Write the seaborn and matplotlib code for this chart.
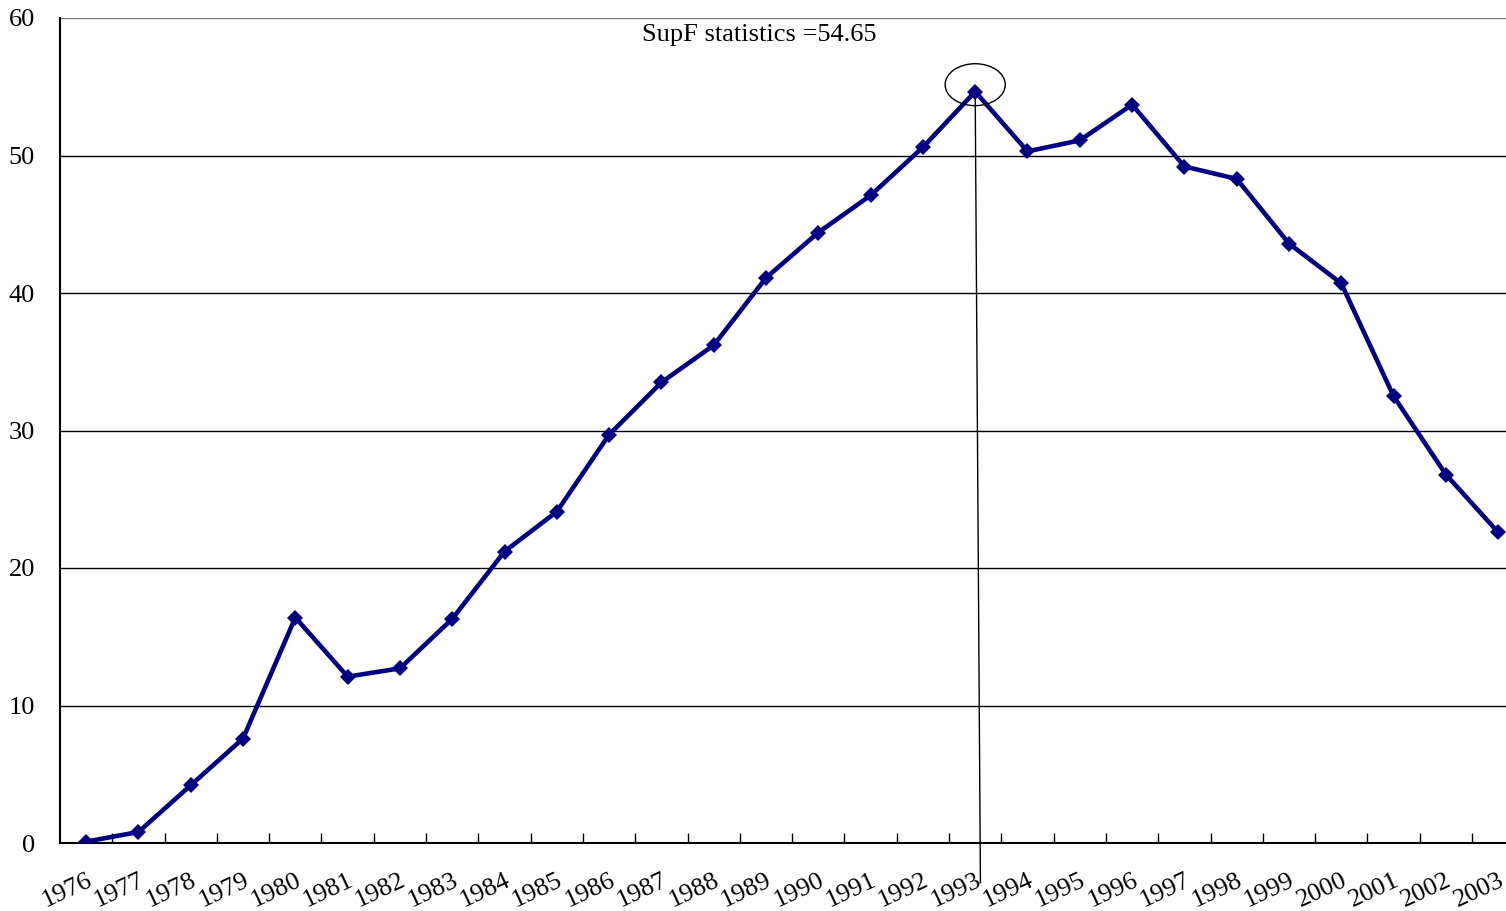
import numpy as np
import pandas as pd
import matplotlib
matplotlib.use("Agg")
import matplotlib.pyplot as plt
from matplotlib.patches import Ellipse
import seaborn as sns

# SupF statistic by candidate break year
years = [str(y) for y in range(1976, 2004)]
supf = [0.1, 0.8, 4.2, 7.6, 16.4, 12.1, 12.7, 16.3, 21.2, 24.1,
        29.7, 33.5, 36.2, 41.1, 44.4, 47.1, 50.6, 54.65, 50.3, 51.1,
        53.7, 49.2, 48.3, 43.6, 40.7, 32.5, 26.8, 22.6]
peak_label = "SupF statistics =54.65"

df = pd.DataFrame({"idx": np.arange(len(years)), "year": years, "supf": supf})
peak = int(np.argmax(supf))

sns.set_style("white")
plt.rcParams["font.family"] = ["Liberation Serif", "DejaVu Serif"]
plt.rcParams["text.color"] = "black"
plt.rcParams["xtick.color"] = "black"
plt.rcParams["ytick.color"] = "black"

fig = plt.figure(figsize=(15.06, 9.11), dpi=100)
ax = fig.add_axes([60 / 1506, 68 / 911, 1 - 60 / 1506, 825 / 911])

sns.lineplot(data=df, x="idx", y="supf", ax=ax, color="#000080", linewidth=3.3,
             marker="D", markersize=8, markeredgewidth=0, zorder=3)

ax.set_xlim(-0.5, 27.15)
ax.set_ylim(0, 60)
ax.set_yticks(range(0, 61, 10))
ax.tick_params(axis="y", labelsize=19, length=0, pad=18, labelcolor="black")

# labels at category centres, ticks at category boundaries
ax.set_xticks(df["idx"])
ax.set_xticklabels(years, rotation=25, ha="right", rotation_mode="anchor", fontsize=19)
ax.tick_params(axis="x", length=0, pad=19, labelcolor="black")
ax.set_xticks(np.arange(0.5, len(years) - 0.5, 1), minor=True)
ax.tick_params(axis="x", which="minor", bottom=True, direction="in", length=7,
               width=1, color="black")

for v in range(10, 61, 10):
    ax.axhline(v, color="black" if v < 60 else "#777777", linewidth=1, zorder=1)

for s in ["top", "right"]:
    ax.spines[s].set_visible(False)
ax.spines["left"].set_color("black")
ax.spines["left"].set_linewidth(1.5)
ax.spines["bottom"].set_color("black")
ax.spines["bottom"].set_linewidth(1.5)
ax.set_xlabel("")
ax.set_ylabel("")

# marker for the maximum
ax.plot([peak, peak + 0.1], [supf[peak], -2.9], color="black", linewidth=1,
        clip_on=False, zorder=2)
ax.add_patch(Ellipse((peak, supf[peak] + 0.5), 1.15, 3.05, fill=False,
                     edgecolor="black", linewidth=1, zorder=4))
ax.text(12.87, 58.8, peak_label, fontsize=19, ha="center", va="center", color="black")

fig.savefig("out.png", dpi=100)
